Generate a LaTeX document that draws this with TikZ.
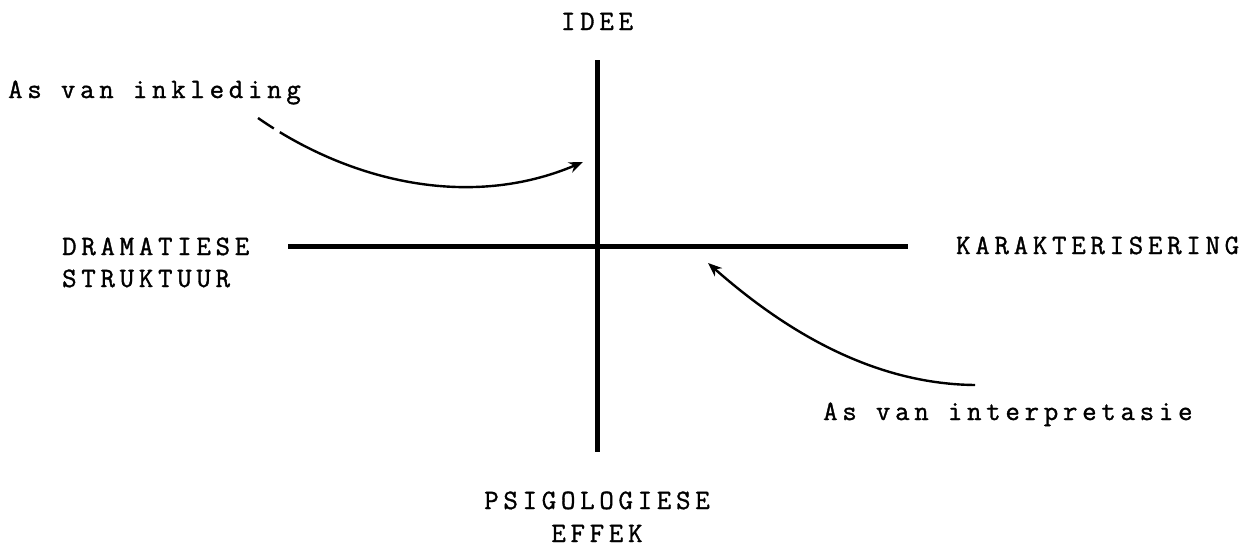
\documentclass[tikz,border=0pt]{standalone}
\usepackage{fontspec}
\newfontfamily\typewriter[LetterSpace=17,FakeBold=1.2]{Latin Modern Mono}
\usetikzlibrary{arrows.meta}
\begin{document}
\begin{tikzpicture}[x=1pt,y=-1pt,
  lbl/.style={inner sep=0pt,font=\typewriter\fontsize{28}{33}\selectfont},
  axis/.style={line width=5pt},
  pointer/.style={line width=2.4pt,-{Stealth[length=14pt,width=11pt]}}]
\useasboundingbox[fill=white] (0,0) rectangle (1244,549);
% axes
\coordinate (top) at (597,60);
\coordinate (bot) at (597,452);
\coordinate (lft) at (288,246);
\coordinate (rgt) at (908,246);
\draw[axis] (top) -- (bot);
\draw[axis] (lft) -- (rgt);
% labels
\node[lbl,anchor=base] (idee) at (597,30) {IDEE};
\node[lbl,anchor=base west] (inkl) at (8,98) {As van inkleding};
\node[lbl,anchor=base west] (dram) at (62,255) {DRAMATIESE};
\node[lbl,anchor=base west] (strk) at (62,287) {STRUKTUUR};
\node[lbl,anchor=base west] (kar) at (956,254) {KARAKTERISERING};
\node[lbl,anchor=base west] (intp) at (823,420) {As van interpretasie};
\node[lbl,anchor=base] (psig) at (597,509) {PSIGOLOGIESE};
\node[lbl,anchor=base] (eff) at (597,542) {EFFEK};
% curved pointers
\coordinate (a1s) at (258,118);
\coordinate (a1e) at (583,162);
\coordinate (a2s) at (975,385);
\coordinate (a2e) at (708,263);
\draw[pointer,dash pattern=on 19pt off 7pt on 2000pt] (a1s) .. controls (350,182) and (470,210) .. (a1e);
\draw[pointer] (a2s) .. controls (865,384) and (775,322) .. (a2e);
\end{tikzpicture}
\end{document}
